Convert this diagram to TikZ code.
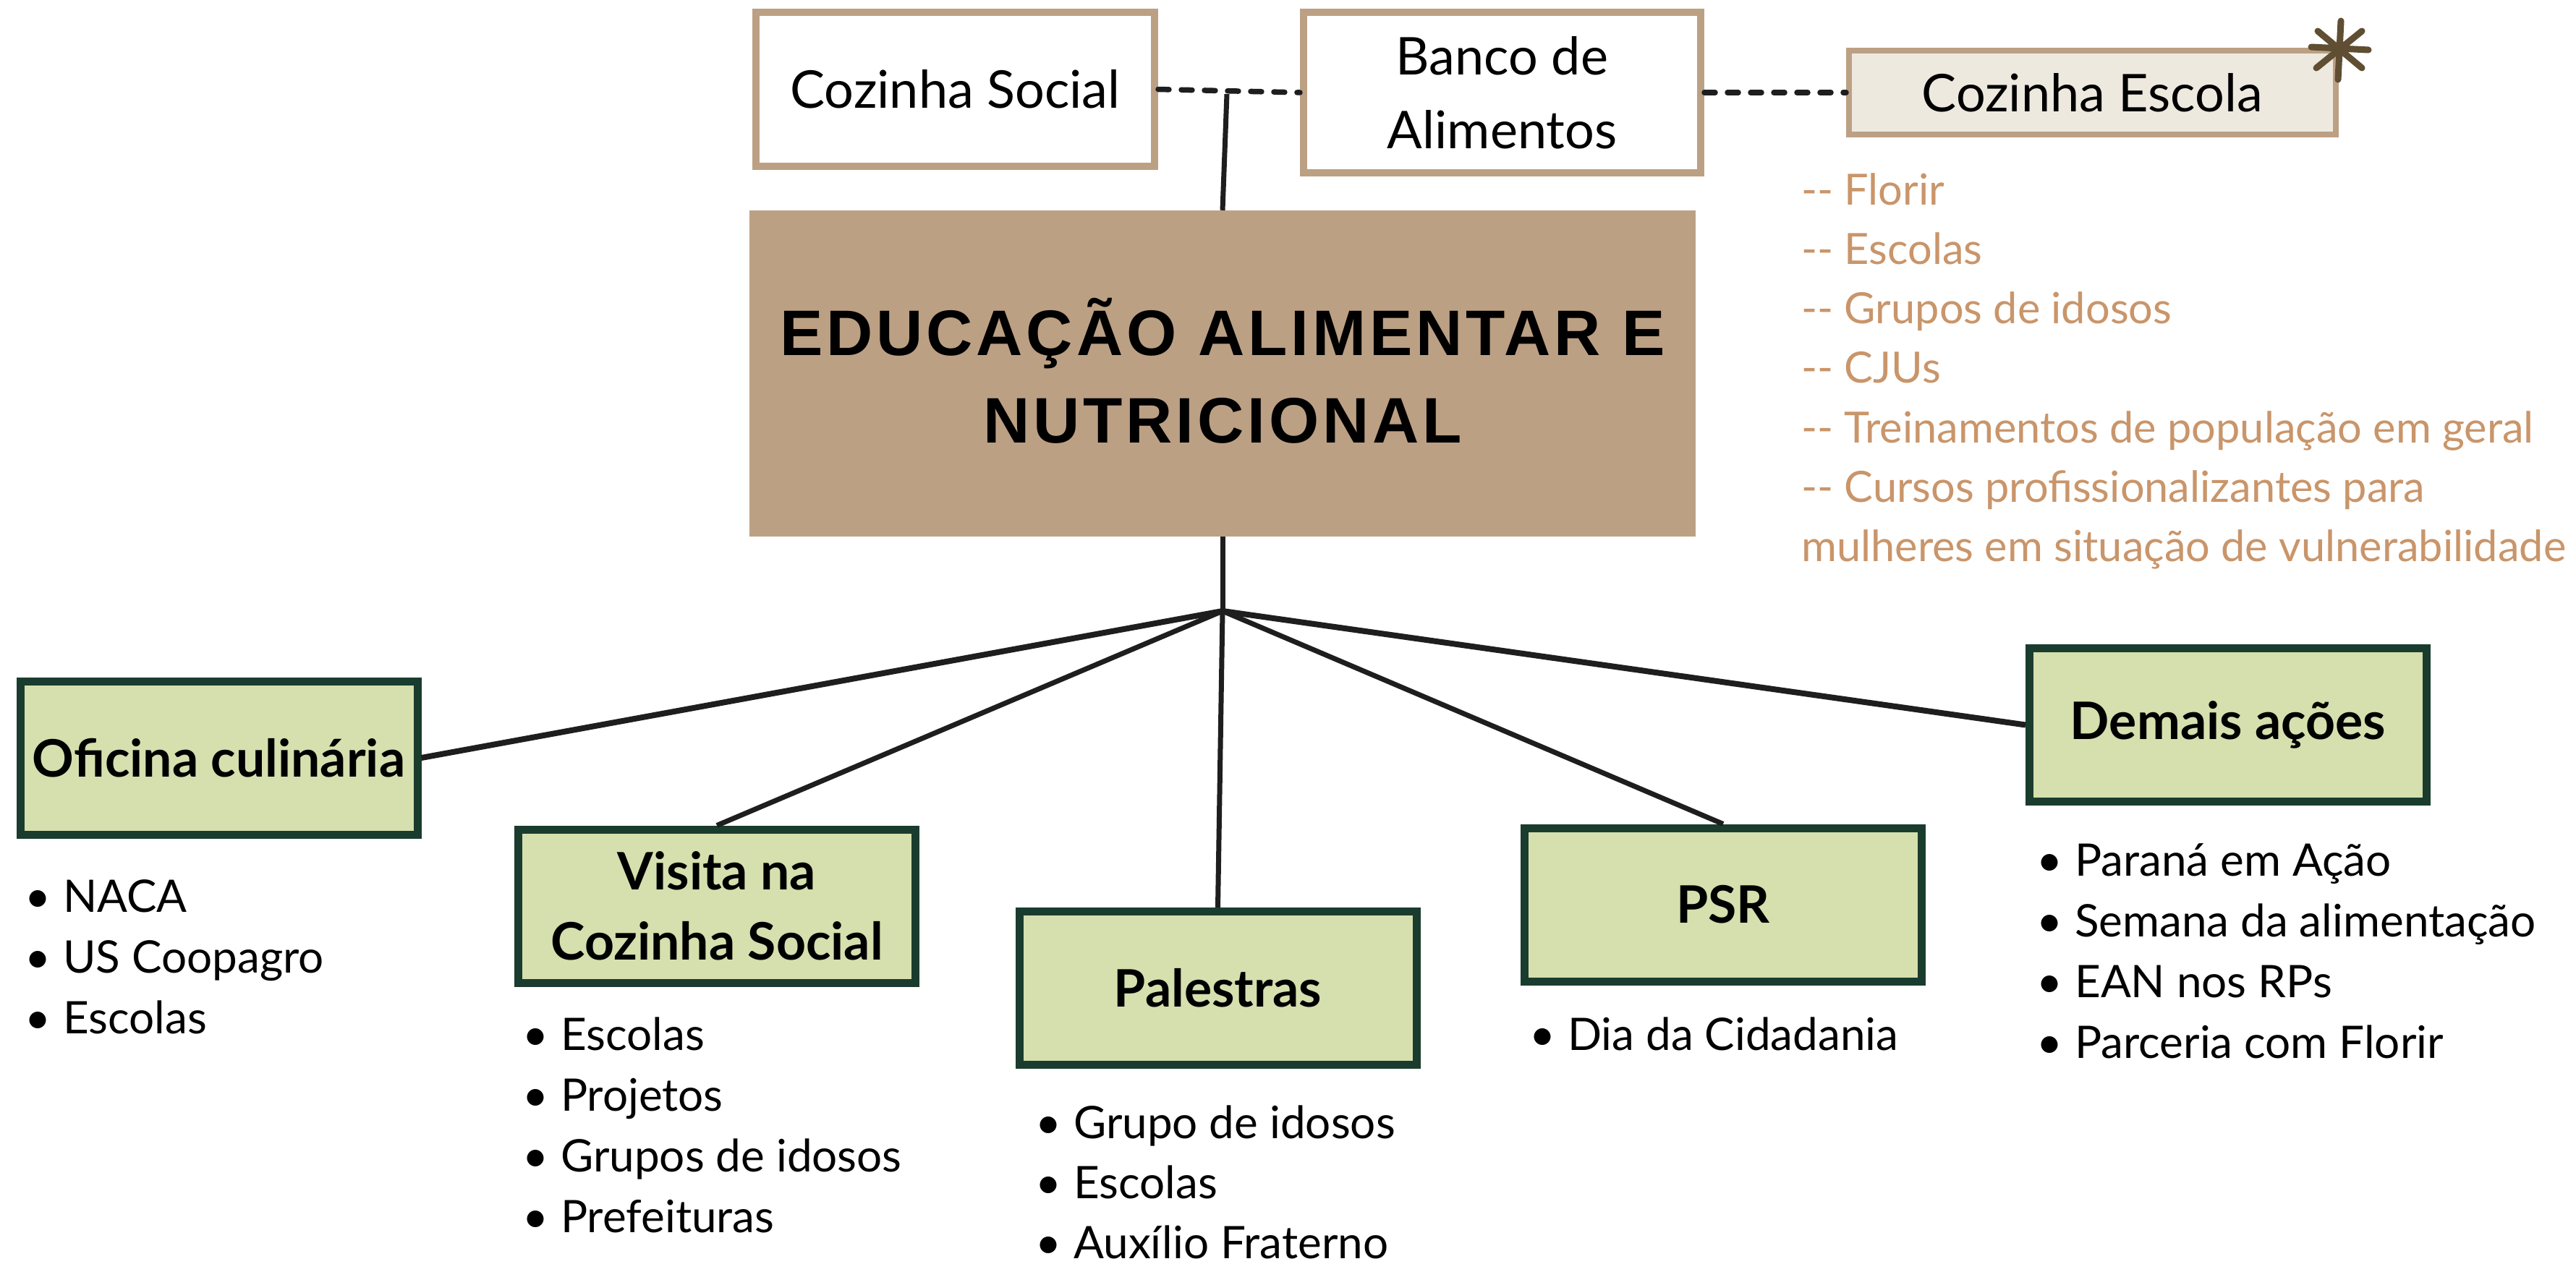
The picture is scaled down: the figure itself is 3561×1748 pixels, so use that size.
\documentclass[tikz,border=0pt]{standalone}
\usepackage{fontspec}
\setmainfont{Lato}
\newfontfamily\titlefont[LetterSpace=5.5]{Liberation Sans}
\usetikzlibrary{calc}
\definecolor{tanb}{HTML}{BCA084}
\definecolor{cream}{HTML}{EEE9DF}
\definecolor{astc}{HTML}{5F4E32}
\definecolor{lgreen}{HTML}{D6DFAE}
\definecolor{dgreen}{HTML}{1A3C2E}
\definecolor{orangetxt}{HTML}{C9956A}
\definecolor{lineblack}{HTML}{1E1E1E}
\newcommand{\bulitem}[1]{\makebox[53pt][l]{\textbullet}#1}
\begin{document}
\begin{tikzpicture}[x=1pt,y=-1pt,
  topbox/.style={draw=tanb, line width=10pt, fill=white, inner sep=0pt, align=center, font=\fontsize{72}{102}\selectfont},
  greenbox/.style={draw=dgreen, line width=11pt, fill=lgreen, minimum width=549pt, minimum height=212pt, inner sep=0pt, align=center, font=\bfseries\fontsize{71.5}{97}\selectfont},
  conn/.style={draw=lineblack, line width=7pt},
  dashconn/.style={draw=lineblack, line width=7.5pt, line cap=round, dash pattern=on 15pt off 17pt},
  listtxt/.style={anchor=base west, inner sep=0pt, font=\fontsize{62}{84}\selectfont},
  orangelist/.style={anchor=base west, inner sep=0pt, text=orangetxt, font=\fontsize{59.5}{82}\selectfont},
  titletxt/.style={anchor=base, inner sep=0pt, font=\titlefont\bfseries\fontsize{89}{121}\selectfont}
]
\useasboundingbox (0,0) rectangle (3561,1748);
\fill[white] (0,0) rectangle (3561,1748);

% top boxes
\node[topbox, minimum width=551pt, minimum height=213pt] (cs) at (1320.5,123.5) {Cozinha Social};
\node[topbox, minimum width=549pt, minimum height=222pt] (ba) at (2076.5,128) {Banco de\\Alimentos};
\node[topbox, draw=tanb, line width=8pt, fill=cream, minimum width=673pt, minimum height=116pt] (ce) at (2892.5,128) {Cozinha Escola};

% asterisk
\coordinate (ast) at (3234,68);
\draw[astc, line width=9pt, line cap=round]
  (3236,29) -- (3232,110)
  (3195,65) -- (3274,69)
  (3204,43) -- (3265,94)
  (3265,43) -- (3202,94);

% main box
\node[fill=tanb, minimum width=1308pt, minimum height=451pt, inner sep=0pt] (main) at (1690,516.5) {};
\node[titletxt] (t1) at (1690,491) {EDUCAÇÃO ALIMENTAR E};
\node[titletxt] (t2) at (1690,612) {NUTRICIONAL};

% dashed connectors
\draw[dashconn] (cs.east) -- (ba.west);
\draw[dashconn] (ba.east) -- (ce.west);
\coordinate (j1) at (1696,130);
\draw[conn] (j1) -- (main.north);

% green boxes
\node[greenbox] (ofi) at (302.5,1048) {Oficina culinária};
\node[greenbox] (vis) at (991,1253) {Visita na\\Cozinha Social};
\node[greenbox] (pal) at (1683.5,1366.5) {Palestras};
\node[greenbox] (psr) at (2382,1251) {PSR};
\node[greenbox] (dem) at (3080,1002.5) {Demais ações};

% hub connectors
\coordinate (hub) at (1690,845);
\draw[conn] (main.south) -- (hub);
\draw[conn, line width=8pt] (hub) -- (ofi.east);
\draw[conn] (hub) -- (vis.north);
\draw[conn] (hub) -- (pal.north);
\draw[conn] (hub) -- (psr.north);
\draw[conn, line width=8pt] (hub) -- (dem.west);

% orange list
\foreach \t [count=\i] in {-{}- Florir, -{}- Escolas, -{}- Grupos de idosos, -{}- CJUs, -{}- Treinamentos de população em geral, -{}- Cursos profissionalizantes para, mulheres em situação de vulnerabilidade}
  \node[orangelist] (or\i) at (2490, 283+82.3*\i-82.3) {\t};

% bullet lists
\foreach \t [count=\i] in {NACA, US Coopagro, Escolas}
  \node[listtxt] (ofil\i) at (34, 1261+84*\i-84) {\bulitem{\t}};
\foreach \t [count=\i] in {Escolas, Projetos, Grupos de idosos, Prefeituras}
  \node[listtxt] (visl\i) at (722, 1452+84*\i-84) {\bulitem{\t}};
\foreach \t [count=\i] in {Grupo de idosos, Escolas, Auxílio Fraterno}
  \node[listtxt] (pall\i) at (1431, 1574+83*\i-83) {\bulitem{\t}};
\node[listtxt] (psrl1) at (2114, 1452) {\bulitem{Dia da Cidadania}};
\foreach \t [count=\i] in {Paraná em Ação, Semana da alimentação, EAN nos RPs, Parceria com Florir}
  \node[listtxt] (deml\i) at (2815, 1211+84*\i-84) {\bulitem{\t}};
\end{tikzpicture}
\end{document}
